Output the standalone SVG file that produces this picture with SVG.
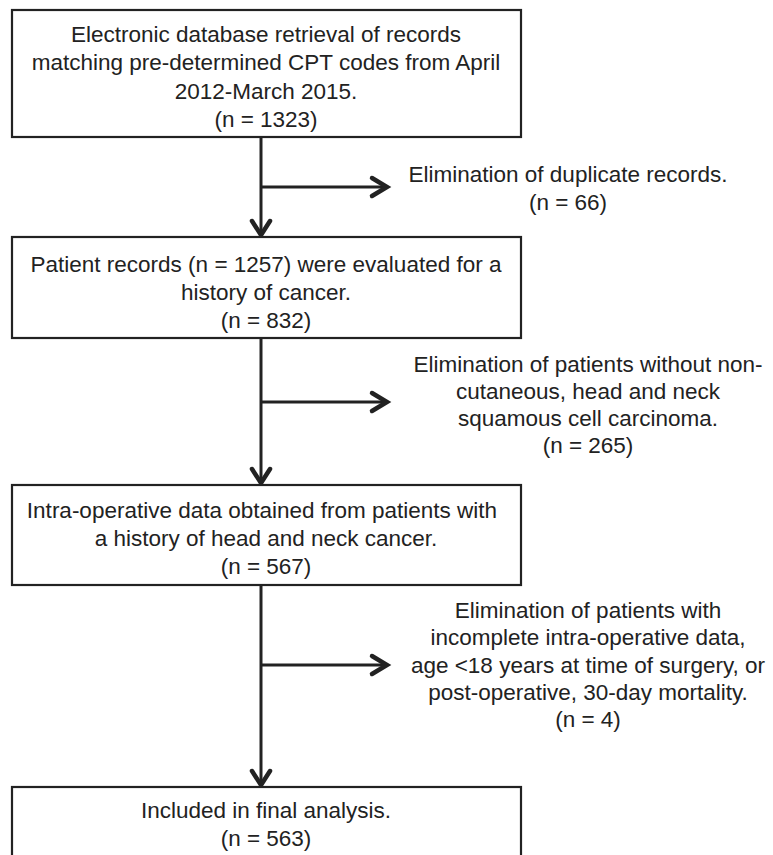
<svg xmlns="http://www.w3.org/2000/svg" width="773" height="855" viewBox="0 0 773 855">
<style>
.box{fill:#fff;stroke:#222;stroke-width:2.2}
.ln{stroke:#222;stroke-width:3;fill:none}
.hd{stroke:#222;stroke-width:4.5;fill:none;stroke-linecap:round;stroke-linejoin:miter}
text{font-family:"Liberation Sans",Arial,sans-serif;font-size:22.5px;fill:#222;text-anchor:middle}
</style>
<rect width="773" height="855" fill="#fff"/>
<g id="connectors">
<line class="ln" x1="261" y1="137" x2="261" y2="234"/>
<path class="hd" d="M252,221 L261,235 L270,221"/>
<line class="ln" x1="261" y1="187" x2="385" y2="187"/>
<path class="hd" d="M372,178 L387,187 L372,196"/>
<line class="ln" x1="261" y1="338" x2="261" y2="482"/>
<path class="hd" d="M252,469 L261,483 L270,469"/>
<line class="ln" x1="261" y1="402" x2="385" y2="402"/>
<path class="hd" d="M372,393 L387,402 L372,411"/>
<line class="ln" x1="261" y1="585" x2="261" y2="784"/>
<path class="hd" d="M252,771 L261,785 L270,771"/>
<line class="ln" x1="261" y1="665" x2="385" y2="665"/>
<path class="hd" d="M372,656 L387,665 L372,674"/>
</g>
<g id="n1">
<rect class="box" x="12" y="10" width="509" height="127"/>
<text x="266" y="42">Electronic database retrieval of records</text>
<text x="266" y="70">matching pre-determined CPT codes from April</text>
<text x="266" y="99">2012-March 2015.</text>
<text x="266" y="127">(n = 1323)</text>
</g>
<g id="e1">
<text x="568" y="182">Elimination of duplicate records.</text>
<text x="568" y="210">(n = 66)</text>
</g>
<g id="n2">
<rect class="box" x="12" y="237" width="509" height="101"/>
<text x="266" y="272">Patient records (n = 1257) were evaluated for a</text>
<text x="266" y="300">history of cancer.</text>
<text x="266" y="328">(n = 832)</text>
</g>
<g id="e2">
<text x="588" y="372">Elimination of patients without non-</text>
<text x="588" y="399">cutaneous, head and neck</text>
<text x="588" y="426">squamous cell carcinoma.</text>
<text x="588" y="453">(n = 265)</text>
</g>
<g id="n3">
<rect class="box" x="12" y="485" width="509" height="100"/>
<text x="262" y="518">Intra-operative data obtained from patients with</text>
<text x="266" y="546">a history of head and neck cancer.</text>
<text x="266" y="574">(n = 567)</text>
</g>
<g id="e3">
<text x="588" y="618">Elimination of patients with</text>
<text x="588" y="645">incomplete intra-operative data,</text>
<text x="588" y="673">age &lt;18 years at time of surgery, or</text>
<text x="588" y="700">post-operative, 30-day mortality.</text>
<text x="588" y="727">(n = 4)</text>
</g>
<g id="n4">
<rect class="box" x="12" y="787" width="509" height="80"/>
<text x="266" y="818">Included in final analysis.</text>
<text x="266" y="846">(n = 563)</text>
</g>
</svg>
